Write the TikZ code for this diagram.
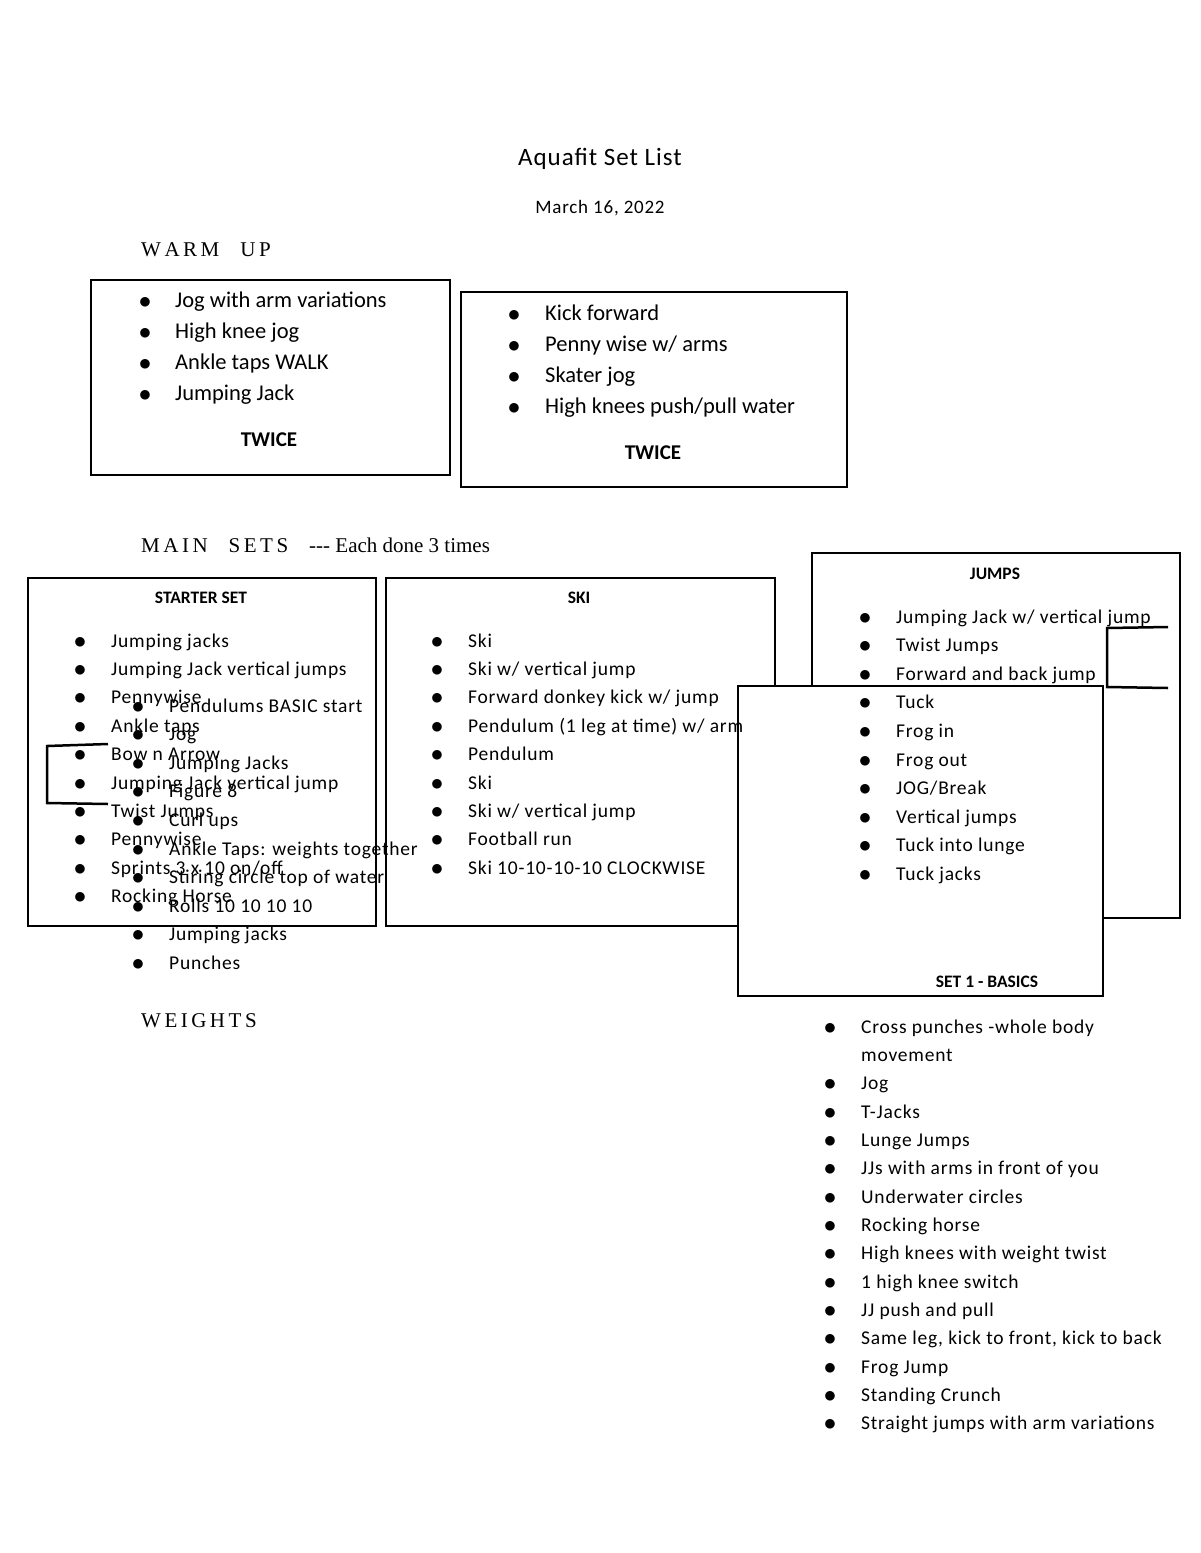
\documentclass[tikz,border=0pt]{standalone}
\usepackage{fontspec}
\setmainfont{Carlito}
\newfontfamily\spaced[LetterSpace=4]{Carlito}
\newfontfamily\serifx{Liberation Serif}
\begin{document}
\begin{tikzpicture}[x=1pt,y=-1pt,
 bx/.style={draw,line width=2pt},
 it/.style={anchor=base west,font=\spaced\fontsize{19.5}{19.5}\selectfont,inner sep=0},
 itb/.style={anchor=base west,font=\fontsize{22.5}{22.5}\selectfont,inner sep=0},
 bl/.style={anchor=base,font=\fontsize{24}{24}\selectfont,inner sep=0},
 hd/.style={font=\bfseries\fontsize{17.5}{17.5}\selectfont,inner sep=0},
 sec/.style={anchor=west,font=\serifx\fontsize{21}{21}\selectfont,inner sep=0}]
\useasboundingbox (0,0) rectangle (1200,1553);
\node[font=\spaced\fontsize{25}{25}\selectfont] (title) at (600,159) {Aquafit Set List};
\node[font=\spaced\fontsize{19}{19}\selectfont] (date) at (600,208) {March 16, 2022};
\node[sec] (wu) at (141,250) {W\,A\,R\,M\quad U\,P};
\node[bx,minimum width=359,minimum height=195,anchor=north west] (w1) at (90,279) {};
\node[bx,minimum width=386,minimum height=195,anchor=north west] (w2) at (460,291) {};
\foreach \t [count=\i] in {Jog with arm variations,High knee jog,Ankle taps WALK,Jumping Jack}{
 \node[bl] (a\i) at (145,{308+31*(\i-1)}) {$\bullet$};
 \node[itb] (at\i) at (175,{307+31*(\i-1)}) {\t};}
\node[hd,font=\bfseries\fontsize{21}{21}\selectfont] (tw1) at (269,440) {TWICE};
\foreach \t [count=\i] in {Kick forward,Penny wise w/ arms,Skater jog,High knees push/pull water}{
 \node[bl] (b\i) at (514,{321+31*(\i-1)}) {$\bullet$};
 \node[itb] (bt\i) at (545,{320+31*(\i-1)}) {\t};}
\node[hd,font=\bfseries\fontsize{21}{21}\selectfont] (tw2) at (653,453) {TWICE};
\node[sec] (ms) at (141,545) {M\,A\,I\,N\quad S\,E\,T\,S\quad --- Each done 3 times};
\node[bx,minimum width=348,minimum height=348,anchor=north west] (st) at (27,577) {};
\node[bx,minimum width=389,minimum height=348,anchor=north west] (ski) at (385,577) {};
\node[bx,minimum width=368,minimum height=365,anchor=north west] (jb) at (811,552) {};
\node[bx,fill=white,minimum width=365,minimum height=310,anchor=north west] (s1) at (737,685) {};
\node[hd] (sth) at (201,598) {STARTER SET};
\node[hd] (skih) at (579,598) {SKI};
\node[hd] (jh) at (995,574) {JUMPS};
\node[hd] (s1h) at (987,982) {SET 1 - BASICS};
\foreach \t [count=\i] in {Jumping jacks,Jumping Jack vertical jumps,Pennywise,Ankle taps,Bow n Arrow,Jumping Jack vertical jump,Twist Jumps,Pennywise,Sprints 3 x 10 on/off,Rocking Horse}{
 \node[bl] (c\i) at (80,{648+28.4*(\i-1)}) {$\bullet$};
 \node[it] (ct\i) at (111,{647+28.4*(\i-1)}) {\t};}
\foreach \t [count=\i] in {Pendulums BASIC start,Jog,Jumping Jacks,Figure 8,Curl ups,Ankle Taps: weights together,Stiring circle top of water,Rolls 10 10 10 10,Jumping jacks,Punches}{
 \node[bl] (d\i) at (138,{713+28.6*(\i-1)}) {$\bullet$};
 \node[it] (dt\i) at (169,{712+28.6*(\i-1)}) {\t};}
\foreach \t [count=\i] in {Ski,Ski w/ vertical jump,Forward donkey kick w/ jump,Pendulum (1 leg at time) w/ arm,Pendulum,Ski,Ski w/ vertical jump,Football run,Ski 10-10-10-10 CLOCKWISE}{
 \node[bl] (e\i) at (437,{648+28.4*(\i-1)}) {$\bullet$};
 \node[it] (et\i) at (468,{647+28.4*(\i-1)}) {\t};}
\foreach \t [count=\i] in {Jumping Jack w/ vertical jump,Twist Jumps,Forward and back jump,Tuck,Frog in,Frog out,JOG/Break,Vertical jumps,Tuck into lunge,Tuck jacks}{
 \node[bl] (f\i) at (865,{624+28.6*(\i-1)}) {$\bullet$};
 \node[it] (ft\i) at (896,{623+28.6*(\i-1)}) {\t};}
\node[sec] (wt) at (141,1021) {W\,E\,I\,G\,H\,T\,S};
\foreach \t [count=\i] in {Cross punches -whole body,movement,Jog,T-Jacks,Lunge Jumps,JJs with arms in front of you,Underwater circles,Rocking horse,High knees with weight twist,1 high knee switch,JJ push and pull,{Same leg, kick to front, kick to back},Frog Jump,Standing Crunch,Straight jumps with arm variations}{
 \node[it] (gt\i) at (861,{1033+28.35*(\i-1)}) {\t};}
\foreach \i in {1,3,4,5,6,7,8,9,10,11,12,13,14,15}{
 \node[bl] (g\i) at (830,{1034+28.35*(\i-1)}) {$\bullet$};}
\coordinate (p1) at (108,744); \coordinate (p2) at (47,746);
\coordinate (p3) at (47,803); \coordinate (p4) at (108,804);
\draw[line width=2.5pt] (p1) -- (p2) -- (p3) -- (p4);
\coordinate (q1) at (1168,627); \coordinate (q2) at (1107,628);
\coordinate (q3) at (1107,687); \coordinate (q4) at (1168,688);
\draw[line width=2.5pt] (q1) -- (q2) -- (q3) -- (q4);
\end{tikzpicture}
\end{document}
